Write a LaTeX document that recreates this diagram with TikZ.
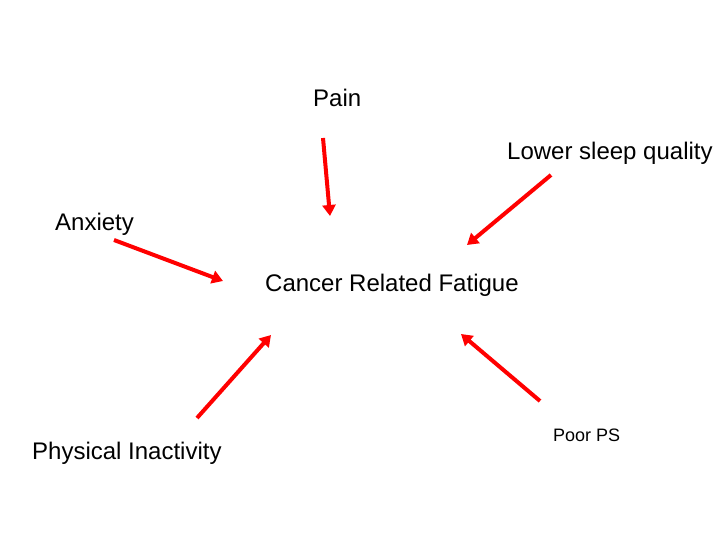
\documentclass[tikz,border=0pt]{standalone}
\usepackage{fontspec}
\setmainfont{Liberation Sans}
\usetikzlibrary{arrows.meta}

\begin{document}
\begin{tikzpicture}[x=1pt, y=-1pt, >={Triangle[length=11pt, width=13pt]}]
    \tikzstyle{cause}=[font=\fontsize{24}{28}\selectfont, inner sep=0pt, anchor=west]
    \tikzstyle{small}=[font=\fontsize{18}{22}\selectfont, inner sep=0pt, anchor=west]
    \tikzstyle{link}=[->, red, line width=4pt]
  \useasboundingbox (0,0) rectangle (720,540);

  %% texts
  \node (pain)  at (313,98)  [cause] {Pain};
  \node (sleep) at (507,153) [cause] {Lower sleep quality};
  \node (anx)   at (55,224)  [cause] {Anxiety};
  \node (crf)   at (265,285) [cause] {Cancer Related Fatigue};
  \node (phys)  at (32,453)  [cause] {Physical Inactivity};
  \node (ps)    at (553,435) [small] {Poor PS};

  %% arrow ends
  \coordinate (pain1)  at (323,138);
  \coordinate (pain2)  at (330,216);
  \coordinate (anx1)   at (114,240);
  \coordinate (anx2)   at (223,281);
  \coordinate (sleep1) at (551,175);
  \coordinate (sleep2) at (467,245);
  \coordinate (phys1)  at (197,418);
  \coordinate (phys2)  at (271,335);
  \coordinate (ps1)    at (540,401);
  \coordinate (ps2)    at (461,334);

  \draw[link] (pain1) to (pain2);
  \draw[link] (anx1) to (anx2);
  \draw[link] (sleep1) to (sleep2);
  \draw[link] (phys1) to (phys2);
  \draw[link] (ps1) to (ps2);
\end{tikzpicture}
\end{document}
